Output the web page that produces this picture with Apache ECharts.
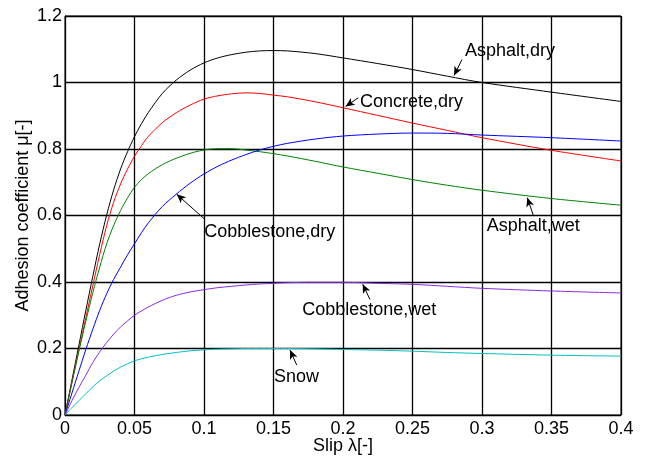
<!DOCTYPE html>
<html>
<head>
<meta charset="utf-8">
<script src="https://cdn.jsdelivr.net/npm/echarts@6/dist/echarts.min.js"></script>
<style>
html,body{margin:0;padding:0;background:#fff;}
#chart{width:646px;height:457px;}
</style>
</head>
<body>
<div id="chart"></div>
<script>
// Slip values (x)
const slip = [0,0.005,0.01,0.015,0.02,0.025,0.03,0.035,0.04,0.045,0.05,0.055,0.06,0.07,0.08,0.09,0.1,0.11,0.12,0.13,0.14,0.15,0.16,0.18,0.2,0.225,0.25,0.275,0.3,0.35,0.4];

// Adhesion coefficient per surface
const asphaltDry    = [0,0.105,0.21,0.315,0.417,0.515,0.602,0.677,0.74,0.792,0.837,0.876,0.91,0.967,1.007,1.037,1.059,1.074,1.084,1.091,1.095,1.096,1.095,1.087,1.074,1.057,1.039,1.019,1.0,0.971,0.943];
const concreteDry   = [0,0.0975,0.195,0.2925,0.389,0.483,0.57,0.64,0.695,0.74,0.778,0.81,0.838,0.879,0.909,0.932,0.95,0.96,0.966,0.969,0.967,0.962,0.957,0.942,0.924,0.901,0.878,0.856,0.834,0.796,0.764];
const asphaltWet    = [0,0.0975,0.1925,0.2825,0.3675,0.445,0.515,0.57,0.615,0.653,0.685,0.708,0.726,0.753,0.772,0.787,0.797,0.801,0.801,0.797,0.792,0.786,0.779,0.763,0.746,0.727,0.708,0.691,0.676,0.651,0.631];
const cobbleDry     = [0,0.066,0.132,0.197,0.258,0.315,0.365,0.408,0.445,0.482,0.515,0.548,0.578,0.627,0.664,0.697,0.725,0.748,0.767,0.783,0.797,0.808,0.817,0.83,0.839,0.845,0.848,0.847,0.842,0.834,0.824];
const cobbleWet     = [0,0.043,0.083,0.12,0.158,0.19,0.218,0.243,0.265,0.283,0.3,0.313,0.325,0.345,0.36,0.37,0.377,0.383,0.387,0.391,0.394,0.396,0.398,0.399,0.399,0.396,0.393,0.387,0.381,0.373,0.367];
const snow          = [0,0.022,0.043,0.064,0.085,0.103,0.118,0.132,0.144,0.154,0.163,0.169,0.174,0.182,0.188,0.193,0.196,0.198,0.199,0.2,0.2,0.2,0.2,0.199,0.197,0.195,0.192,0.188,0.185,0.18,0.177];

// Tick labels
const xTicks = [0,0.05,0.1,0.15,0.2,0.25,0.3,0.35,0.4];
const yTicks = [0,0.2,0.4,0.6,0.8,1,1.2];

const surfaceNames = ['Asphalt,dry','Concrete,dry','Asphalt,wet','Cobblestone,dry','Cobblestone,wet','Snow'];
const surfaceValues = [asphaltDry, concreteDry, asphaltWet, cobbleDry, cobbleWet, snow];
const surfaceColors = ['#000000','#ff0000','#008000','#0000ff','#8a2be2','#00bfbf'];

// Annotation placement (data coordinates): label anchor, arrow tail, arrow head
const annotations = {
  'Asphalt,dry':     {text:[0.2878,1.094], from:[0.2856,1.069], to:[0.2799,1.021]},
  'Concrete,dry':    {text:[0.2122,0.942], from:[0.2110,0.954], to:[0.2019,0.928]},
  'Asphalt,wet':     {text:[0.3034,0.5676], from:[0.3369,0.6006], to:[0.3326,0.6537]},
  'Cobblestone,dry': {text:[0.1002,0.5495], from:[0.1000,0.5907], to:[0.0804,0.6637]},
  'Cobblestone,wet': {text:[0.1707,0.3153], from:[0.2194,0.3474], to:[0.2142,0.3934]},
  'Snow':            {text:[0.1504,0.1141], from:[0.1667,0.1502], to:[0.1619,0.1952]}
};

const FONT = 'Liberation Sans, Arial, sans-serif';
const FS = 18;

const series = surfaceNames.map((name, i) => {
  const a = annotations[name];
  return {
    name: name,
    type: 'line',
    data: slip.map((s, k) => [s, surfaceValues[i][k]]),
    smooth: 0.3,
    showSymbol: false,
    symbol: 'none',
    lineStyle: {color: surfaceColors[i], width: 1},
    itemStyle: {color: surfaceColors[i]},
    z: 3,
    markLine: {
      silent: true,
      symbol: ['none', 'arrow'],
      symbolSize: [6, 9],
      label: {show: false},
      lineStyle: {color: '#000', width: 1, type: 'solid'},
      emphasis: {disabled: true},
      data: [[{coord: a.from}, {coord: a.to}]]
    },
    markPoint: {
      silent: true,
      symbol: 'circle',
      symbolSize: 0,
      data: [{coord: a.text, value: name}],
      label: {
        show: true,
        position: 'right',
        distance: 0,
        formatter: name,
        color: '#000',
        fontSize: FS,
        fontFamily: FONT
      }
    }
  };
});

const chart = echarts.init(document.getElementById('chart'), null, {renderer: 'canvas'});
chart.setOption({
  animation: false,
  backgroundColor: '#fff',
  grid: {left: 65, right: 25, top: 16, bottom: 42, containLabel: false, outerBoundsMode: 'none',
         show: true, borderColor: '#000', borderWidth: 1, backgroundColor: 'transparent'},
  xAxis: {
    type: 'value',
    min: xTicks[0], max: xTicks[xTicks.length - 1], interval: 0.05,
    name: 'Slip λ[-]',
    nameLocation: 'middle',
    nameGap: 22,
    nameMoveOverlap: false,
    nameTextStyle: {color: '#000', fontSize: FS, fontFamily: FONT},
    axisLine: {show: true, lineStyle: {color: '#000', width: 1}},
    axisTick: {show: false},
    axisLabel: {color: '#000', fontSize: FS, fontFamily: FONT, margin: 5,
      formatter: v => String(xTicks.find(t => Math.abs(t - v) < 1e-9) ?? v)},
    splitLine: {show: true, lineStyle: {color: '#000', width: 1.3}}
  },
  yAxis: {
    type: 'value',
    min: yTicks[0], max: yTicks[yTicks.length - 1], interval: 0.2,
    name: 'Adhesion coefficient μ[-]',
    nameLocation: 'middle',
    nameGap: 33,
    nameMoveOverlap: false,
    nameTextStyle: {color: '#000', fontSize: FS, fontFamily: FONT},
    axisLine: {show: true, lineStyle: {color: '#000', width: 1}},
    axisTick: {show: false},
    axisLabel: {color: '#000', fontSize: FS, fontFamily: FONT, margin: 3,
      formatter: v => String(yTicks.find(t => Math.abs(t - v) < 1e-9) ?? v)},
    splitLine: {show: true, lineStyle: {color: '#000', width: 1.3}}
  },
  series: series
});
</script>
</body>
</html>
